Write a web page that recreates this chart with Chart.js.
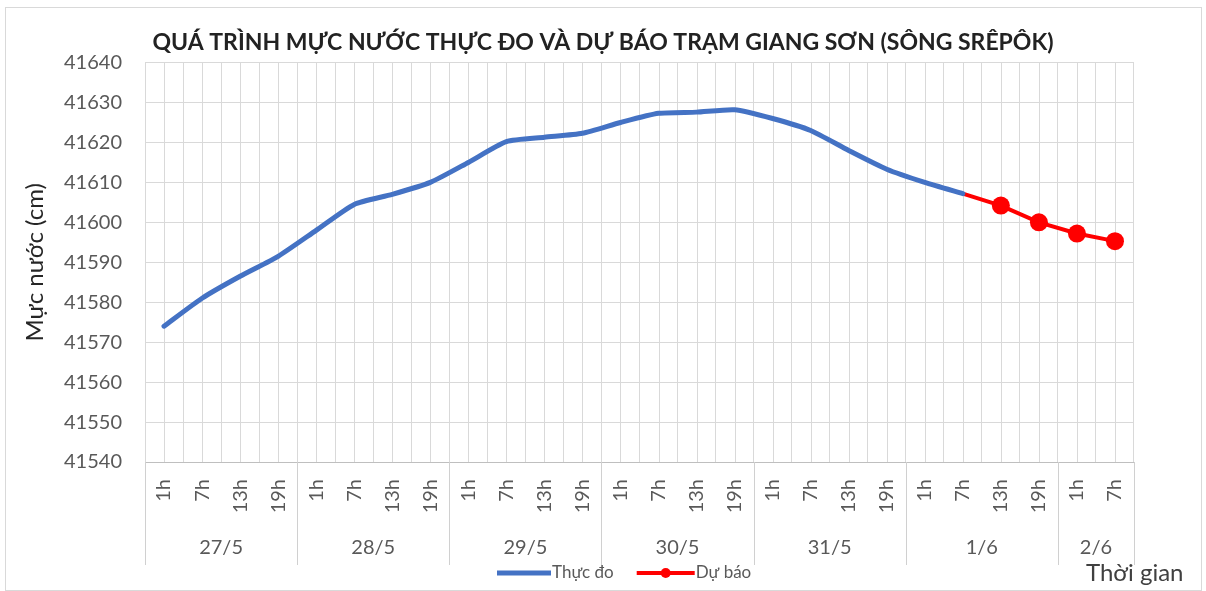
<!DOCTYPE html>
<html>
<head>
<meta charset="utf-8">
<script src="https://cdn.jsdelivr.net/npm/chart.js@4.4.0/dist/chart.umd.min.js"></script>
<style>
html,body{margin:0;padding:0;background:#fff;}
#wrap{width:1206px;height:591px;position:relative;}
</style>
</head>
<body>
<div id="wrap"><canvas id="c" width="1206" height="591"></canvas></div>
<script>
// ---- Data ----
const titleText = 'QUÁ TRÌNH MỰC NƯỚC THỰC ĐO VÀ DỰ BÁO TRẠM GIANG SƠN (SÔNG SRÊPÔK)';
const hourLabels = [
  '1h','7h','13h','19h',
  '1h','7h','13h','19h',
  '1h','7h','13h','19h',
  '1h','7h','13h','19h',
  '1h','7h','13h','19h',
  '1h','7h','13h','19h',
  '1h','7h'
];
const dayLabels = ['27/5','28/5','29/5','30/5','31/5','1/6','2/6'];
const daySpans = [4,4,4,4,4,4,2];
const observed = [
  41574, 41581, 41586.5, 41591.5,
  41598, 41604.5, 41607, 41610,
  41615, 41620.2, 41621.3, 41622.3,
  41625, 41627.3, 41627.6, 41628.2,
  41626, 41623, 41618, 41613.3,
  41610, 41607.2, null, null,
  null, null
];
const forecast = [
  null, null, null, null,
  null, null, null, null,
  null, null, null, null,
  null, null, null, null,
  null, null, null, null,
  null, 41607.2, 41604.2, 41600,
  41597.2, 41595.3
];
const yMin = 41540, yMax = 41640, yStep = 10;
const yTitle = 'Mực nước (cm)';
const xTitle = 'Thời gian';
const seriesNames = ['Thực đo', 'Dự báo'];

const FONT = 'Lato, "Open Sans", sans-serif';
const GRID = '#d9d9d9';

const extras = {
  id: 'extras',
  beforeDraw(chart) {
    const ctx = chart.ctx;
    ctx.save();
    ctx.fillStyle = '#fff';
    ctx.fillRect(0, 0, chart.width, chart.height);
    ctx.strokeStyle = '#d9d9d9';
    ctx.lineWidth = 1;
    ctx.strokeRect(5.5, 7.5, chart.width - 10, chart.height - 8);
    ctx.restore();
  },
  beforeDatasetsDraw(chart) {
    const ctx = chart.ctx, x = chart.scales.x, a = chart.chartArea;
    ctx.save();
    ctx.strokeStyle = GRID;
    ctx.lineWidth = 1;
    for (let i = 0; i < hourLabels.length; i++) {
      const px = Math.round(x.getPixelForValue(i)) + 0.5;
      ctx.beginPath();
      ctx.moveTo(px, a.top);
      ctx.lineTo(px, a.bottom);
      ctx.stroke();
    }
    ctx.restore();
  },
  afterDraw(chart) {
    const ctx = chart.ctx, x = chart.scales.x, a = chart.chartArea;
    const step = x.getPixelForValue(1) - x.getPixelForValue(0);
    ctx.save();
    // day separators + day labels
    ctx.strokeStyle = '#d0d0d0';
    ctx.lineWidth = 1;
    ctx.fillStyle = '#595959';
    ctx.font = '20px ' + FONT;
    ctx.textAlign = 'center';
    ctx.textBaseline = 'middle';
    let s = 0;
    const bound = (i) => x.getPixelForValue(i) - step / 2;
    for (let d = 0; d <= dayLabels.length; d++) {
      const px = Math.round(d < dayLabels.length ? bound(s) : bound(s - 1) + step) + 0.5;
      ctx.beginPath();
      ctx.moveTo(px, a.bottom);
      ctx.lineTo(px, a.bottom + 103);
      ctx.stroke();
      if (d < dayLabels.length) {
        const cx = bound(s) + step * daySpans[d] / 2;
        ctx.fillText(dayLabels[d], cx, a.bottom + 86);
        s += daySpans[d];
      }
    }
    // x title
    ctx.textAlign = 'left';
    ctx.font = '24px ' + FONT;
    ctx.fillStyle = '#404040';
    ctx.fillText(xTitle, 1086, a.bottom + 111);
    // legend
    const ly = a.bottom + 111;
    const ds = chart.data.datasets;
    ctx.font = '17px ' + FONT;
    ctx.fillStyle = '#595959';
    let lx = 497;
    ctx.strokeStyle = ds[0].borderColor;
    ctx.lineWidth = 5;
    ctx.beginPath(); ctx.moveTo(lx, ly); ctx.lineTo(lx + 54, ly); ctx.stroke();
    lx += 55;
    ctx.fillText(ds[0].label, lx, ly);
    lx += ctx.measureText(ds[0].label).width + 23;
    ctx.strokeStyle = ds[1].borderColor;
    ctx.lineWidth = 4;
    ctx.beginPath(); ctx.moveTo(lx, ly); ctx.lineTo(lx + 58, ly); ctx.stroke();
    ctx.fillStyle = ds[1].borderColor;
    ctx.beginPath(); ctx.arc(lx + 29, ly, 5, 0, Math.PI * 2); ctx.fill();
    lx += 59;
    ctx.fillStyle = '#595959';
    ctx.fillText(ds[1].label, lx, ly);
    ctx.restore();
  }
};

new Chart(document.getElementById('c'), {
  type: 'line',
  data: {
    labels: hourLabels,
    datasets: [
      {
        label: seriesNames[0],
        data: observed,
        borderColor: '#4472C4',
        backgroundColor: '#4472C4',
        borderWidth: 5,
        pointRadius: 0,
        tension: 0.2,
        borderCapStyle: 'round',
        borderJoinStyle: 'round',
        spanGaps: false
      },
      {
        label: seriesNames[1],
        data: forecast,
        borderColor: '#FF0000',
        backgroundColor: '#FF0000',
        borderWidth: 4,
        pointRadius: (c) => (c.dataIndex === 21 ? 0 : 9),
        pointBorderWidth: 0,
        pointBackgroundColor: '#FF0000',
        tension: 0
      }
    ]
  },
  options: {
    responsive: false,
    animation: false,
    devicePixelRatio: 1,
    layout: { padding: { left: 0, right: 0, top: 0, bottom: 26 } },
    plugins: {
      legend: { display: false },
      tooltip: { enabled: false },
      title: {
        display: true,
        text: titleText,
        color: '#222',
        font: { family: FONT, size: 23, weight: 'bold' },
        padding: { top: 29, bottom: 6 }
      }
    },
    scales: {
      x: {
        type: 'category',
        offset: true,
        grid: { offset: true, color: GRID, drawTicks: false, lineWidth: 1 },
        border: { color: '#bfbfbf', width: 1 },
        ticks: {
          autoSkip: false, minRotation: 90, maxRotation: 90, padding: 17,
          color: '#595959', font: { family: FONT, size: 20 }
        },
        afterFit: (s) => { s.height = 103; }
      },
      y: {
        min: yMin, max: yMax,
        grid: { color: GRID, drawTicks: false },
        border: { display: false },
        ticks: {
          stepSize: yStep, padding: 23, color: '#595959',
          font: { family: FONT, size: 20 },
          callback: (v) => String(v)
        },
        title: {
          display: true, text: yTitle, color: '#262626',
          font: { family: FONT, size: 24 }, padding: { top: 21, bottom: 0 }
        },
        afterFit: (s) => { s.width = 145; }
      },
      yRight: {
        position: 'right',
        min: 0, max: 1,
        grid: { display: false, drawTicks: false },
        border: { display: false },
        ticks: { display: false },
        afterFit: (s) => { s.width = 72; }
      }
    }
  },
  plugins: [extras]
});
</script>
</body>
</html>
